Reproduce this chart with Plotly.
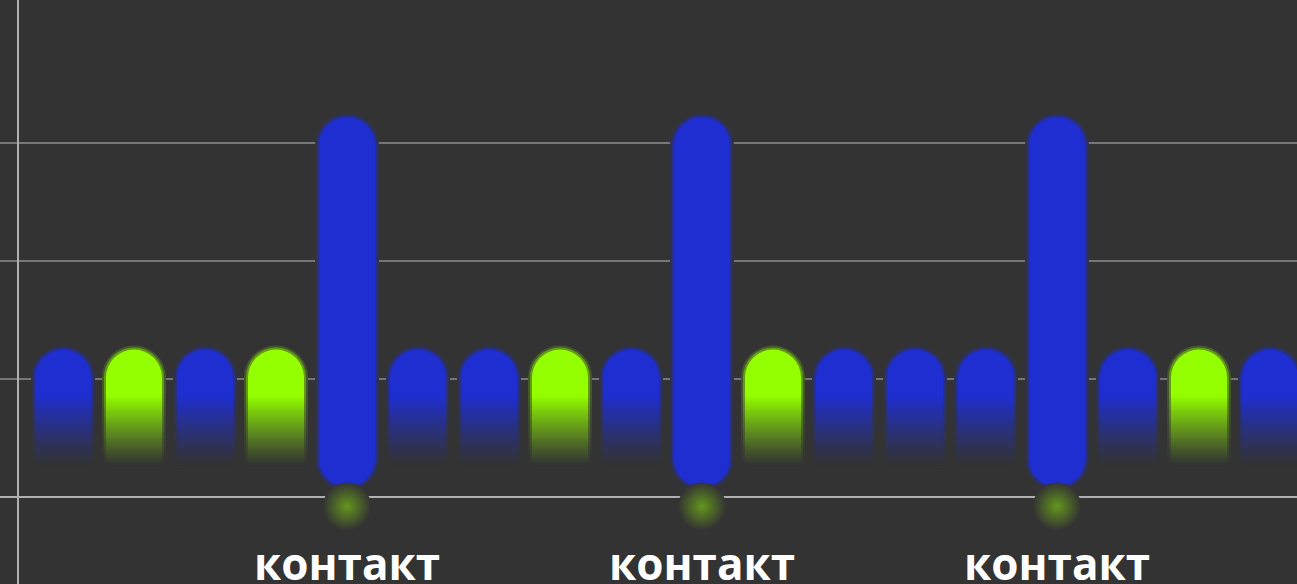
import plotly.graph_objects as go

# ---- data ----
positions = list(range(18))
kinds = ["blue", "green", "blue", "green", "tall", "blue", "blue", "green", "blue",
         "tall", "green", "blue", "blue", "blue", "tall", "blue", "green", "blue"]
values = [1.25, 1.25, 1.25, 1.25, 3.22, 1.25, 1.25, 1.25, 1.25,
          3.22, 1.25, 1.25, 1.25, 1.25, 3.22, 1.25, 1.25, 1.25]
tall_low = 0.085
label_text = "контакт"

# ---- style ----
BG = (51, 51, 51)
BLUE = (31, 46, 208)
GREEN = (148, 255, 0)
GLOW = (100, 150, 28)
FADE_TOP = 0.864
FADE_BOTTOM = 0.27
N_SEG = 36
PX_X = 71.0   # pixels per x unit
PX_Y = 118.0  # pixels per y unit
BAR_W = 56 / PX_X
HALO = 4      # px of soft edge


def rgb(c):
    return "rgb(%d,%d,%d)" % tuple(int(round(v)) for v in c)


def mix(c1, c2, t):
    return tuple(a + (b - a) * t for a, b in zip(c1, c2))


base_col = {"blue": BLUE, "green": GREEN, "tall": BLUE}

short_x = [p for p, k in zip(positions, kinds) if k != "tall"]
short_v = [v for v, k in zip(values, kinds) if k != "tall"]
short_c = [base_col[k] for k in kinds if k != "tall"]
tall_x = [p for p, k in zip(positions, kinds) if k == "tall"]
tall_v = [v for v, k in zip(values, kinds) if k == "tall"]

fig = go.Figure()

# soft glow under tall bars (radial: centre = gradient colour, edge = marker colour)
fig.add_trace(go.Scatter(
    x=tall_x, y=[-0.08] * len(tall_x), mode="markers",
    marker=dict(size=48, color=rgb(BG), line=dict(width=0),
                gradient=dict(type="radial", color=rgb(GLOW))),
    hoverinfo="skip", showlegend=False))

SOLID_BASE = FADE_TOP - 0.3
step = (FADE_TOP - FADE_BOTTOM) / N_SEG


def add_layers(extra_px, strength):
    w = BAR_W + 2 * extra_px / PX_X
    dy = extra_px / PX_Y
    # tall bars (single bar, rounded both ends)
    fig.add_trace(go.Bar(
        x=tall_x, y=[v - tall_low + 2 * dy for v in tall_v],
        base=[tall_low - dy] * len(tall_x), width=w,
        marker=dict(color=rgb(mix(BG, BLUE, strength)), line=dict(width=0),
                    cornerradius=28 + extra_px),
        hoverinfo="skip", showlegend=False))
    # solid rounded tops of short bars
    fig.add_trace(go.Bar(
        x=short_x, y=[v - SOLID_BASE + dy for v in short_v],
        base=[SOLID_BASE] * len(short_x), width=w,
        marker=dict(color=[rgb(mix(BG, c, strength)) for c in short_c],
                    line=dict(width=0), cornerradius=28 + extra_px),
        hoverinfo="skip", showlegend=False))
    # faded lower part of short bars
    for i in range(N_SEG):
        lo = FADE_BOTTOM + i * step
        t = (i + 0.5) / N_SEG
        alpha = t ** 1.1
        cols = [rgb(mix(BG, c, alpha * strength)) for c in short_c]
        fig.add_trace(go.Bar(
            x=short_x, y=[step * 1.4] * len(short_x), base=[lo] * len(short_x),
            width=w, marker=dict(color=cols, line=dict(width=0)),
            hoverinfo="skip", showlegend=False))


add_layers(HALO, 0.18)
add_layers(HALO / 2, 0.5)
add_layers(0, 1.0)

for x in tall_x:
    fig.add_annotation(x=x, y=-0.56, text=label_text, showarrow=False,
                       xanchor="center", yanchor="middle",
                       font=dict(family="Open Sans", size=44, color="white", weight=700))

fig.update_layout(
    width=1297, height=584,
    margin=dict(l=0, r=0, t=0, b=0),
    paper_bgcolor=rgb(BG), plot_bgcolor=rgb(BG),
    barmode="overlay", showlegend=False,
    xaxis=dict(range=[-63 / PX_X, -63 / PX_X + 1297 / PX_X], visible=False, fixedrange=True),
    yaxis=dict(range=[-87 / PX_Y, 497 / PX_Y], tickvals=[0, 1, 2, 3],
               showticklabels=False, ticks="",
               showgrid=True, gridcolor="rgba(255,255,255,0.33)", gridwidth=1.5,
               zeroline=True, zerolinecolor="#b0b0b0", zerolinewidth=2,
               showline=True, linecolor="#b0b0b0", linewidth=1.5,
               anchor="free", position=18 / 1297, fixedrange=True),
)

fig.write_html("out.html", config={"displayModeBar": False},
               post_script="document.body.style.margin='0px';document.body.style.overflow='hidden';")
